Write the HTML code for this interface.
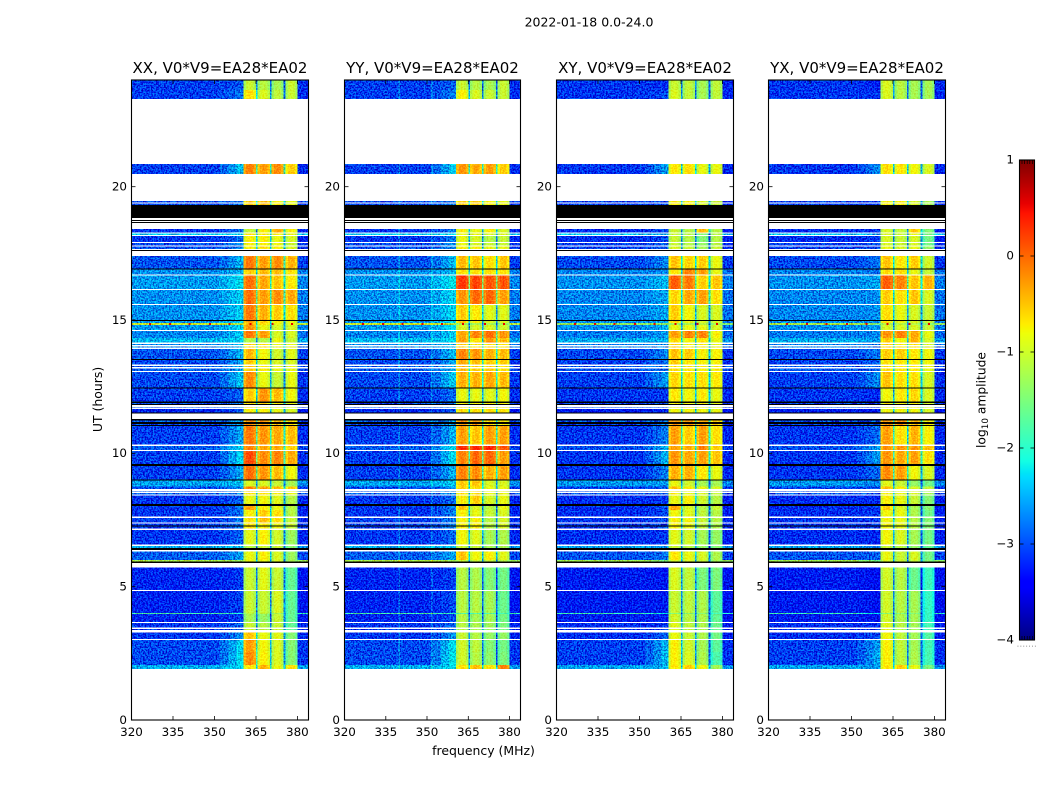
<!DOCTYPE html>
<html lang="en">
<head>
<meta charset="utf-8">
<title>2022-01-18 dynamic spectra</title>
<style>
html,body{margin:0;padding:0;background:#fff;}
svg{display:block;}
text{font-family:"DejaVu Sans","Liberation Sans",sans-serif;fill:#000;}
</style>
</head>
<body>
<svg id="figure" xmlns="http://www.w3.org/2000/svg" width="1050" height="800" viewBox="0 0 1050 800">
  <defs id="defs"></defs>
  <rect x="0" y="0" width="1050" height="800" fill="#fff"></rect>
  <text x="589" y="26.5" font-size="12.5" text-anchor="middle">2022-01-18 0.0-24.0</text>
  <text x="483.5" y="755" font-size="12.45" text-anchor="middle">frequency (MHz)</text>
  <text transform="translate(102,399.5) rotate(-90)" font-size="12.45" text-anchor="middle">UT (hours)</text>
  <text transform="translate(985.5,400) rotate(-90)" font-size="12.3" text-anchor="middle">log<tspan font-size="8.8" dy="2.5">10</tspan><tspan dy="-2.5"> amplitude</tspan></text>
  <g id="panels"></g>
  <g id="colorbar"></g>
</svg>
<script>
const panelTitles = ["XX, V0*V9=EA28*EA02","YY, V0*V9=EA28*EA02","XY, V0*V9=EA28*EA02","YX, V0*V9=EA28*EA02"];
const xTicks = [320,335,350,365,380];
const yTicks = [0,5,10,15,20];
const colorTicks = [1,0,-1,-2,-3,-4];

/* Time rows holding data, hours UT, top to bottom. Anything not listed is a white gap. */
const rowStart = [24,23.625,20.85,19.46,19.37,18.41,18.24,18.15,17.89,17.76,17.4,16.895,16.67,16.125,15.56,14.96,14.88,14.81,14.59,14.325,14.1,14.01,13.91,13.5,13.275,13.18,13.05,12.43,11.89,11.74,11.66,11.23,11.1,11.025,10.275,10.09,9.525,8.98,8.76,8.59,8.51,8.42,8.025,7.875,7.575,7.37,7.26,7.125,6.525,6.32,6,5.72,4.84,4.01,3.975,3.64,3.41,3.28,3,2.55,2.06];
const rowEnd = [23.625,23.29,20.475,19.41,19.31,18.28,18.19,17.925,17.79,17.66,16.93,16.71,16.16,15.6,15,14.88,14.81,14.625,14.325,14.16,14.06,13.97,13.54,13.33,13.24,13.09,12.47,11.94,11.85,11.72,11.53,11.175,11.06,10.33,10.125,9.6,9.02,8.76,8.66,8.57,8.46,8.1,7.875,7.63,7.41,7.29,7.18,6.58,6.45,6,5.94,4.875,4.01,3.975,3.675,3.47,3.375,3.04,2.55,2.06,1.91];

/* Rows plotted black */
const blackStart = [19.31,18.75,18.675,17.625,16.93,15,13.54,12.47,11.94,11.85,11.53,11.29,11.175,11.06,9.6,9.02,8.1,7.29,6.45,5.94];
const blackEnd = [18.825,18.71,18.64,17.59,16.895,14.96,13.5,12.43,11.89,11.81,11.5,11.23,11.1,11.025,9.525,8.98,8.025,7.26,6.375,5.89];

/* log10 amplitude of the off-band background and of the shoulder below 360 MHz, per row */
const backgroundLevel = [-3.05,-3.05,-3.05,-3,-3,-3.1,-2.3,-3.1,-3,-3,-2.95,-2.65,-2.6,-2.65,-2.65,-2.6,-1,-2.6,-2.7,-2.45,-2.7,-2.7,-2.95,-3,-2.9,-2.9,-3,-3.05,-3,-2.9,-3.2,-2.9,-3,-3.05,-2.9,-3.05,-3.05,-2.55,-3,-2.9,-2.9,-3.1,-3.1,-3.1,-3.05,-3.05,-3.05,-3.1,-2.5,-2.9,-1.2,-3.2,-3.2,-1.8,-3.2,-3.1,-3.1,-3.1,-3,-3,-2.5];
const shoulderLevel = [-2.95,-2.8,-2.4,-2.8,-2.8,-2.8,-2.3,-2.8,-2.7,-2.7,-2.5,-2.5,-2.25,-2.35,-2.35,-2.3,-1.2,-2.3,-2.4,-2.3,-2.5,-2.5,-2.5,-2.6,-2.6,-2.6,-2.4,-2.9,-2.8,-2.8,-3,-2.6,-2.6,-2.55,-2.3,-2.3,-2.55,-2.4,-2.7,-2.7,-2.7,-2.9,-2.8,-2.8,-2.8,-2.8,-2.8,-2.9,-2.4,-2.6,-1.3,-3.1,-3.05,-2,-3.05,-2.9,-2.9,-2.7,-2.3,-2.25,-2.3];

/* log10 amplitude of the four 5 MHz windows, per row, per polarisation */
const windowsXX = [
[-1.1,-1.2,-1.3,-1.1],[-.7,-1,-1.15,-1.1],[-.2,-.35,-.25,-.6],[-.6,-.5,-.8,-.9],[-.6,-.5,-.8,-.9],[-1.1,-.8,-.4,-.8],[-.7,-.8,-.8,-.9],[-.8,-.8,-.9,-1],[-.8,-.8,-.85,-1.1],[-.8,-.7,-.8,-1],
[-.15,-.35,-.25,-.45],[-.6,-.5,-.5,-.7],[-.1,-.4,-.55,-.75],[-.1,-.35,-.25,-.4],[-.15,-.45,-.6,-.7],[-.4,-.6,-.8,-.9],[-.5,-.7,-.9,-.9],[-.3,-.9,-1,-1],[-.15,-.35,-1,-1],[-1.2,-1.2,-.9,-1.1],
[-.6,-.7,-.9,-.9],[-.7,-.7,-.9,-.9],[-.5,-.85,-1.05,-.95],[-.6,-.9,-1,-1],[-.6,-.8,-.9,-.9],[-.6,-.8,-.9,-.9],[-.25,-.9,-1.1,-.9],[-.6,-.3,-.5,-.85],[-.7,-.7,-.8,-.9],[-.6,-.7,-.8,-.9],
[-.8,-.8,-.9,-1],[-.3,-.3,-.5,-.7],[-.3,-.3,-.5,-.7],[-.15,-.3,-.4,-.5],[-.2,-.4,-.4,-.6],[.1,-.25,-.2,-.4],[-.1,-.3,-.5,-.85],[-1,-1,-1.1,-1.3],[-.2,-.35,-.5,-.6],[-.6,-.7,-.8,-.9],
[-.7,-.7,-.8,-.9],[-.9,-.85,-.95,-1.2],[-.35,-.8,-.9,-1.2],[-.8,-.6,-.7,-1.2],[-.7,-.5,-.7,-1.1],[-.7,-.8,-.9,-1.1],[-.7,-.8,-.9,-1.1],[-.95,-.8,-1.05,-1.35],[-1.2,-1.1,-1.1,-1.5],[-.9,-.8,-1,-1.35],
[-.9,-.9,-1,-1.3],[-1.1,-.95,-1.1,-1.7],[-1.1,-1.1,-1,-1.7],[-1.2,-1.2,-1.3,-1.7],[-1.3,-1.4,-1.1,-1.7],[-1.1,-1.2,-1.1,-1.7],[-1.1,-1.2,-1.1,-1.7],[-.55,-.9,-.95,-1.5],[-.35,-.85,-1,-1.5],[-.25,-.8,-1,-1.5],[-.75,-.45,-.9,-.7]];
const windowsYY = [
[-1.1,-1.2,-1.3,-1.1],[-.8,-1,-1.1,-1.1],[-.3,-.4,-.35,-.6],[-.6,-.6,-.8,-.9],[-.6,-.6,-.8,-.9],[-.8,-.9,-.8,-1],[-.9,-.9,-1,-1],[-.9,-1,-1.2,-1.1],[-.9,-1,-1.1,-1.1],[-.8,-.8,-.9,-.9],
[-.5,-.55,-.7,-.55],[-.7,-.7,-.7,-.7],[.2,.15,.05,.05],[-.3,-.05,-.05,-.35],[-.6,-.75,-.95,-.95],[-.6,-.8,-1,-1],[-1.3,-1.3,-1.3,-1.3],[-1,-1,-1,-1.05],[-.4,-.2,-.1,-.3],[-.35,-.7,-.3,-.5],
[-.6,-.7,-.7,-.7],[-.6,-.7,-.7,-.7],[-.2,-.3,-.45,-.5],[-.4,-.5,-.6,-.6],[-.5,-.6,-.6,-.7],[-.5,-.6,-.6,-.7],[-.45,-.45,-.4,-.5],[-.9,-.9,-.95,-.85],[-.8,-.8,-.8,-.8],[-.7,-.7,-.7,-.7],
[-.7,-.7,-.7,-.7],[-.3,-.3,-.7,-.8],[-.3,-.3,-.7,-.8],[-.35,-.55,-.35,-.35],[.25,.3,.3,.05],[-.2,-.05,-.05,-.35],[-.2,-.25,-.45,-.35],[-.6,-.55,-1,-1],[-.6,-.7,-.9,-.9],[-.7,-.7,-.9,-.9],
[-.7,-.7,-.9,-.9],[-.8,-.6,-1,-.9],[-.55,-1,-1.2,-.9],[-.8,-.9,-1.1,-1],[-.8,-.8,-1.2,-1],[-.8,-.8,-1.2,-1],[-.75,-.8,-1.2,-1],[-.85,-.95,-1.3,-1.25],[-1.1,-1.1,-1.3,-1.3],[-.55,-.85,-.8,-.95],
[-1.1,-1.1,-1.1,-1.2],[-1.2,-1.25,-1.5,-1.6],[-1.2,-1.2,-1.3,-1.65],[-1.8,-1.8,-1.8,-1.9],[-1.2,-1.3,-1.3,-1.6],[-1.2,-1.25,-1.35,-1.55],[-1.2,-1.25,-1.35,-1.55],[-1.1,-1.2,-1.4,-1.4],[-1.05,-1.15,-1.5,-1.6],[-1.05,-1.2,-1.45,-1.55],[-.7,-.5,-.7,-.2]];
const windowsXY = [
[-1.1,-1.15,-1.3,-1.15],[-1,-1.15,-1.3,-1.15],[-.75,-.7,-.9,-.9],[-.8,-.8,-1,-1.1],[-.8,-.8,-1,-1.1],[-1.1,-1.2,-.5,-1.2],[-1.1,-1.2,-1.5,-1.2],[-1.1,-1.2,-1.5,-1.2],[-1.1,-1.2,-1.4,-1.2],[-1,-1.1,-1.3,-1.1],
[-.55,-.65,-.6,-.9],[-.75,-.2,-.35,-.9],[0,-.15,-.6,-.55],[-.65,-.4,-.35,-.7],[-.6,-.85,-1,-1],[-.7,-.9,-1,-1],[-1.3,-1.3,-1.2,-1.3],[-.9,-.9,-.9,-1],[-.35,-.2,-.2,-.8],[-.65,-.85,-.7,-.9],
[-.6,-.8,-.8,-.9],[-.6,-.8,-.8,-.9],[-.55,-.6,-.8,-.8],[-.6,-.75,-.8,-.8],[-.7,-.75,-.8,-.8],[-.7,-.75,-.8,-.8],[-.65,-.7,-.7,-.75],[-.75,-.85,-.75,-.9],[-.8,-.8,-.8,-.9],[-.8,-.8,-.8,-.9],
[-.85,-.85,-.85,-.9],[-.3,-.3,-.4,-.6],[-.3,-.3,-.4,-.6],[-.35,-.6,-.35,-.7],[-.35,-.45,-.2,-.6],[-.3,-.4,-.35,-.55],[-.45,-.45,-.75,-.9],[-.9,-1.05,-1.3,-1.3],[-.5,-.8,-.9,-1],[-.8,-.9,-1,-1.1],
[-.8,-.9,-1,-1.1],[-.9,-.8,-1.05,-1.2],[-.4,-1,-1.2,-1.1],[-.85,-.95,-1.15,-1.2],[-.8,-.85,-1.1,-1.2],[-.8,-.9,-1.15,-1.25],[-.8,-.9,-1.15,-1.25],[-.95,-1.05,-1.3,-1.4],[-1.1,-1.2,-1.4,-1.5],[-.75,-.9,-1,-1.25],
[-1,-1,-1.1,-1.3],[-1,-1.15,-1.55,-1.55],[-1.1,-1.15,-1.25,-1.75],[-1.5,-1.5,-1.5,-1.9],[-1.05,-1.2,-1.25,-1.7],[-.95,-1.15,-1.25,-1.65],[-.95,-1.15,-1.25,-1.65],[-.9,-1.1,-1.25,-1.6],[-.8,-1.05,-1.3,-1.75],[-.8,-1,-1.25,-1.85],[-.75,-.6,-.85,-1.3]];
const windowsYX = [
[-1,-1.2,-1.3,-1.3],[-1,-1.2,-1.3,-1.3],[-.7,-.75,-.85,-1],[-.8,-.8,-1,-1.3],[-.8,-.8,-1,-1.3],[-1,-1.1,-.6,-1.5],[-1,-1.1,-.9,-1.6],[-1,-1.1,-1,-1.6],[-1,-1.1,-1,-1.6],[-.9,-1,-.9,-1.4],
[-.55,-.75,-.6,-1.05],[-.7,-.7,-.9,-1.1],[0,-.2,-.55,-.45],[-.6,-.7,-.55,-1],[-.7,-.9,-1,-1.1],[-.7,-.9,-1,-1.1],[-1.2,-1.2,-1.2,-1.4],[-1,-1,-1,-1.1],[-.3,-.2,-.4,-.9],[-.6,-.85,-.45,-1],
[-.6,-.8,-.7,-1],[-.6,-.8,-.7,-1],[-.6,-.6,-.75,-.85],[-.7,-.75,-.75,-.85],[-.7,-.75,-.75,-.9],[-.7,-.75,-.75,-.9],[-.55,-.7,-.7,-1],[-.85,-.75,-.65,-1],[-.8,-.8,-.8,-1],[-.8,-.8,-.8,-1],
[-.85,-.85,-.85,-1],[-.3,-.3,-.5,-.8],[-.3,-.3,-.5,-.8],[-.35,-.7,-.45,-.8],[-.3,-.3,-.3,-.5],[-.3,-.4,-.35,-.7],[-.25,-.35,-.85,-1],[-.95,-1.1,-1.4,-1.6],[-.5,-.8,-1,-1.1],[-.8,-.9,-1,-1.3],
[-.8,-.9,-1,-1.3],[-.8,-.9,-1.1,-1.5],[-.6,-1,-1.3,-1.5],[-.85,-.9,-1.25,-1.6],[-.85,-.9,-1.2,-1.5],[-.85,-.95,-1.2,-1.5],[-.85,-.95,-1.2,-1.5],[-.85,-1,-1.3,-1.6],[-1.1,-1.2,-1.4,-1.7],[-.9,-1.1,-1,-1.6],
[-1,-1.1,-1.1,-1.5],[-1.05,-1.2,-1.65,-1.95],[-1.05,-1.2,-1.3,-2],[-1.5,-1.5,-1.5,-2],[-1.05,-1.25,-1.3,-2],[-.95,-1.2,-1.3,-1.9],[-.95,-1.2,-1.3,-1.9],[-.85,-1.15,-1.3,-1.8],[-.8,-1.15,-1.3,-1.9],[-.8,-1.15,-1.25,-1.9],[-.75,-.6,-.9,-1.55]];
const windowsByPanel = [windowsXX,windowsYY,windowsXY,windowsYX];

/* Channels, MHz. kind: b background, c faint interference channel, s shoulder, w window, g gap, t tail */
const channelEdges = [320,339.6,340.1,351.5,352,355,358,360.5,361.4,362.3,363.2,364.1,365,365.6,366.5,367.4,368.2,369.1,370,370.6,371.5,372.4,373.2,374.1,375,375.6,376.5,377.4,378.2,379.1,380,384];
const channelKinds = ["b","c","b","c","s","s","s","w","w","w","w","w","g","w","w","w","w","w","g","w","w","w","w","w","g","w","w","w","w","w","t"];
const channelWindow = [0,0,0,0,0,0,0,0,0,0,0,0,0,1,1,1,1,1,1,2,2,2,2,2,2,3,3,3,3,3,3];
const shoulderMix = [0,0,0,0,.3,.65,1,0,0,0,0,0,0,0,0,0,0,0,0,0,0,0,0,0,0,0,0,0,0,0,0];
const passbandShape = [-.15,.05,.1,.05,-.12,-.15,.05,.1,.05,-.12,-.15,.05,.1,.05,-.12,-.15,.05,.1,.05,-.12];
const interferenceBoost = [.03,.35,0,0];
const panelBackgroundOffset = [0,0,-.05,-.05];
const panelShoulderOffset = [0,.05,-.2,-.3];
const spikeRowOffset = [0,0,-.3,-.15];

/* Strong interference spikes on the 14.85 h row */
const spikeFreqs = [326.7,334,341,348.4,355.5,363,371,378];
const spikeLevel = .55;
const spikeRow = 16;

const panelLeft = [131.5,344.5,556.5,768.5];
const panelRight = [308.5,520.5,733.5,945.5];
const plotTop = 80, plotBottom = 720;
const xDomain = [320,384], yDomain = [0,24];
const colorDomain = [-4,1];
const cbLeft = 1019.5, cbRight = 1034.5, cbTop = 160, cbBottom = 640;

const NS = "http://www.w3.org/2000/svg";
function mk(tag, parent){ const e = document.createElementNS(NS, tag); parent.appendChild(e); return e; }
function xScale(p, f){ return panelLeft[p] + (f - xDomain[0]) / (xDomain[1] - xDomain[0]) * (panelRight[p] - panelLeft[p]); }
function yScale(h){ return plotBottom - (h - yDomain[0]) / (yDomain[1] - yDomain[0]) * (plotBottom - plotTop); }
function cbScale(v){ return cbBottom - (v - colorDomain[0]) / (colorDomain[1] - colorDomain[0]) * (cbBottom - cbTop); }
function lerpStops(t, s){
  if (t <= s[0][0]) return s[0][1];
  for (let i = 1; i < s.length; i++) if (t <= s[i][0]) {
    const a = s[i-1], b = s[i];
    return a[1] + (b[1]-a[1]) * (t-a[0]) / (b[0]-a[0]);
  }
  return s[s.length-1][1];
}
function jet(v){
  const t = (v - colorDomain[0]) / (colorDomain[1] - colorDomain[0]);
  const r = lerpStops(t, [[.35,0],[.66,1],[.89,1],[1,.5]]);
  const g = lerpStops(t, [[.125,0],[.375,1],[.64,1],[.91,0]]);
  const b = lerpStops(t, [[0,.5],[.11,1],[.34,1],[.65,0]]);
  return "rgb(" + Math.round(r*255) + "," + Math.round(g*255) + "," + Math.round(b*255) + ")";
}
function cellValue(p, r, c){
  const kind = channelKinds[c];
  let bg = backgroundLevel[r] + panelBackgroundOffset[p];
  if (r === spikeRow) bg += spikeRowOffset[p];
  const win = windowsByPanel[p][r];
  if (kind === "b") return bg;
  if (kind === "c") return bg + interferenceBoost[p];
  if (kind === "t") return bg - .1;
  if (kind === "s") return bg + shoulderMix[c] * (shoulderLevel[r] + panelShoulderOffset[p] - bg);
  if (kind === "g") return win[channelWindow[c]] - 1.6;
  let wi = 0;
  for (let k = 0; k < c; k++) if (channelKinds[k] === "w") wi++;
  return win[channelWindow[c]] + passbandShape[wi];
}

/* Visual grain filters: they texture the drawn cells, they carry no data */
function makeGrain(id, seed, amp, bias){
  const defs = document.getElementById("defs");
  const f = mk("filter", defs);
  f.setAttribute("id", id);
  f.setAttribute("filterUnits", "userSpaceOnUse");
  f.setAttribute("x", "100"); f.setAttribute("y", "60");
  f.setAttribute("width", "880"); f.setAttribute("height", "680");
  f.setAttribute("color-interpolation-filters", "sRGB");
  const t = mk("feTurbulence", f);
  t.setAttribute("type", "fractalNoise");
  t.setAttribute("baseFrequency", "0.62");
  t.setAttribute("numOctaves", "2");
  t.setAttribute("seed", seed);
  t.setAttribute("result", "n");
  const m = mk("feColorMatrix", f);
  m.setAttribute("in", "n");
  m.setAttribute("type", "matrix");
  m.setAttribute("values", "0 0 0 0 .5  3.4 0 0 0 -1.2  2 0 0 0 -.5  0 0 0 0 1");
  m.setAttribute("result", "c");
  const a = mk("feComposite", f);
  a.setAttribute("in", "SourceGraphic");
  a.setAttribute("in2", "c");
  a.setAttribute("operator", "arithmetic");
  a.setAttribute("k1", "0"); a.setAttribute("k2", "1");
  a.setAttribute("k3", String(amp)); a.setAttribute("k4", String(-amp/2 - bias));
  a.setAttribute("result", "s");
  const o = mk("feComposite", f);
  o.setAttribute("in", "s");
  o.setAttribute("in2", "SourceAlpha");
  o.setAttribute("operator", "in");
}

const panelsRoot = document.getElementById("panels");
const polNames = ["xx","yy","xy","yx"];

panelTitles.forEach(function(title, p){
  const pol = polNames[p];
  makeGrain("grain-off-" + pol, 3 + p * 7, .55, .03);
  makeGrain("grain-win-" + pol, 5 + p * 11, .22, 0);

  const g = mk("g", panelsRoot);
  
  

  const off = mk("g", g);
  
  
  off.setAttribute("filter", "url(#grain-off-" + pol + ")");
  off.setAttribute("shape-rendering", "crispEdges");
  const win = mk("g", g);
  
  
  win.setAttribute("filter", "url(#grain-win-" + pol + ")");
  win.setAttribute("shape-rendering", "crispEdges");

  rowStart.forEach(function(start, r){
    const y0 = yScale(start), y1 = yScale(rowEnd[r]);
    for (let c = 0; c < channelKinds.length; c++) {
      const kind = channelKinds[c];
      const parent = kind === "w" ? win : off;
      const x0 = xScale(p, channelEdges[c]), x1 = xScale(p, channelEdges[c+1]);
      const cell = mk("rect", parent);
      
      
      cell.setAttribute("x", x0.toFixed(2));
      cell.setAttribute("y", y0.toFixed(2));
      cell.setAttribute("width", (x1 - x0).toFixed(2));
      cell.setAttribute("height", (y1 - y0).toFixed(2));
      cell.setAttribute("fill", jet(cellValue(p, r, c)));
    }
  });

  spikeFreqs.forEach(function(f){
    const sp = mk("rect", g);
    
    
    sp.setAttribute("x", (xScale(p, f) - 1).toFixed(2));
    sp.setAttribute("y", yScale(rowStart[spikeRow]).toFixed(2));
    sp.setAttribute("width", "2");
    sp.setAttribute("height", (yScale(rowEnd[spikeRow]) - yScale(rowStart[spikeRow])).toFixed(2));
    sp.setAttribute("fill", jet(spikeLevel));
    sp.setAttribute("shape-rendering", "crispEdges");
  });

  blackStart.forEach(function(start, i){
    const b = mk("rect", g);
    
    
    b.setAttribute("x", panelLeft[p]);
    b.setAttribute("y", yScale(start).toFixed(2));
    b.setAttribute("width", panelRight[p] - panelLeft[p]);
    b.setAttribute("height", (yScale(blackEnd[i]) - yScale(start)).toFixed(2));
    b.setAttribute("fill", "#000");
    b.setAttribute("shape-rendering", "crispEdges");
  });

  const frame = mk("rect", g);
  
  
  frame.setAttribute("x", panelLeft[p]);
  frame.setAttribute("y", plotTop);
  frame.setAttribute("width", panelRight[p] - panelLeft[p]);
  frame.setAttribute("height", plotBottom - plotTop);
  frame.setAttribute("fill", "none");
  frame.setAttribute("stroke", "#000");
  frame.setAttribute("stroke-width", "1.1");

  const ttl = mk("text", g);
  
  
  ttl.setAttribute("x", ((panelLeft[p] + panelRight[p]) / 2).toFixed(1));
  ttl.setAttribute("y", "73");
  ttl.setAttribute("font-size", "15");
  ttl.setAttribute("text-anchor", "middle");
  ttl.textContent = title;

  xTicks.forEach(function(v){
    const x = xScale(p, v);
    [[plotBottom, plotBottom - 4],[plotTop, plotTop + 4]].forEach(function(seg){
      const t = mk("line", g);
      
      
      t.setAttribute("x1", x.toFixed(1)); t.setAttribute("x2", x.toFixed(1));
      t.setAttribute("y1", seg[0]); t.setAttribute("y2", seg[1]);
      t.setAttribute("stroke", "#000"); t.setAttribute("stroke-width", "0.8");
    });
    const l = mk("text", g);
    
    
    l.setAttribute("x", x.toFixed(1));
    l.setAttribute("y", "736");
    l.setAttribute("font-size", "11.9");
    l.setAttribute("text-anchor", "middle");
    l.textContent = String(v);
  });

  yTicks.forEach(function(v){
    const y = yScale(v);
    [[panelLeft[p], panelLeft[p] + 4],[panelRight[p], panelRight[p] - 4]].forEach(function(seg){
      const t = mk("line", g);
      
      
      t.setAttribute("x1", seg[0]); t.setAttribute("x2", seg[1]);
      t.setAttribute("y1", y.toFixed(1)); t.setAttribute("y2", y.toFixed(1));
      t.setAttribute("stroke", "#000"); t.setAttribute("stroke-width", "0.8");
    });
    const l = mk("text", g);
    
    
    l.setAttribute("x", (panelLeft[p] - 4.5).toFixed(1));
    l.setAttribute("y", (y + 3.8).toFixed(1));
    l.setAttribute("font-size", "11.9");
    l.setAttribute("text-anchor", "end");
    l.textContent = String(v);
  });
});

/* Colorbar */
const cb = document.getElementById("colorbar");
const cbSteps = 240;
for (let i = 0; i < cbSteps; i++) {
  const v0 = colorDomain[0] + (colorDomain[1] - colorDomain[0]) * i / cbSteps;
  const v1 = colorDomain[0] + (colorDomain[1] - colorDomain[0]) * (i + 1) / cbSteps;
  const s = mk("rect", cb);
  
  
  s.setAttribute("x", cbLeft);
  s.setAttribute("y", cbScale(v1).toFixed(2));
  s.setAttribute("width", cbRight - cbLeft);
  s.setAttribute("height", (cbScale(v0) - cbScale(v1) + .3).toFixed(2));
  s.setAttribute("fill", jet((v0 + v1) / 2));
  s.setAttribute("shape-rendering", "crispEdges");
}
const cbFrame = mk("rect", cb);


cbFrame.setAttribute("x", cbLeft);
cbFrame.setAttribute("y", cbTop);
cbFrame.setAttribute("width", cbRight - cbLeft);
cbFrame.setAttribute("height", cbBottom - cbTop);
cbFrame.setAttribute("fill", "none");
cbFrame.setAttribute("stroke", "#000");
cbFrame.setAttribute("stroke-width", "1.1");
colorTicks.forEach(function(v){
  const y = cbScale(v);
  [[cbLeft, cbLeft + 4],[cbRight, cbRight - 4]].forEach(function(seg){
    const t = mk("line", cb);
    
    
    t.setAttribute("x1", seg[0]); t.setAttribute("x2", seg[1]);
    t.setAttribute("y1", y); t.setAttribute("y2", y);
    t.setAttribute("stroke", "#000"); t.setAttribute("stroke-width", "0.8");
  });
  const l = mk("text", cb);
  
  
  l.setAttribute("x", "1014");
  l.setAttribute("y", (y + 3.5).toFixed(1));
  l.setAttribute("font-size", "11.9");
  l.setAttribute("text-anchor", "end");
  l.textContent = v < 0 ? "\u2212" + Math.abs(v) : String(v);
});
[0,1,2,3,4].forEach(function(i){
  const x = cbLeft + 2.5 + i * 2.6;
  [[cbTop, cbTop + 4],[cbBottom, cbBottom - 4]].forEach(function(seg){
    const t = mk("line", cb);
    
    
    t.setAttribute("x1", x); t.setAttribute("x2", x);
    t.setAttribute("y1", seg[0]); t.setAttribute("y2", seg[1]);
    t.setAttribute("stroke", "#000"); t.setAttribute("stroke-width", "0.7");
  });
});
[0,1,2,3,4,5,6].forEach(function(i){
  const d = mk("rect", cb);
  
  
  d.setAttribute("x", 1017.5 + i * 2.9);
  d.setAttribute("y", "645.7");
  d.setAttribute("width", "0.9");
  d.setAttribute("height", "0.9");
  d.setAttribute("fill", "#777");
});
</script>
</body>
</html>
